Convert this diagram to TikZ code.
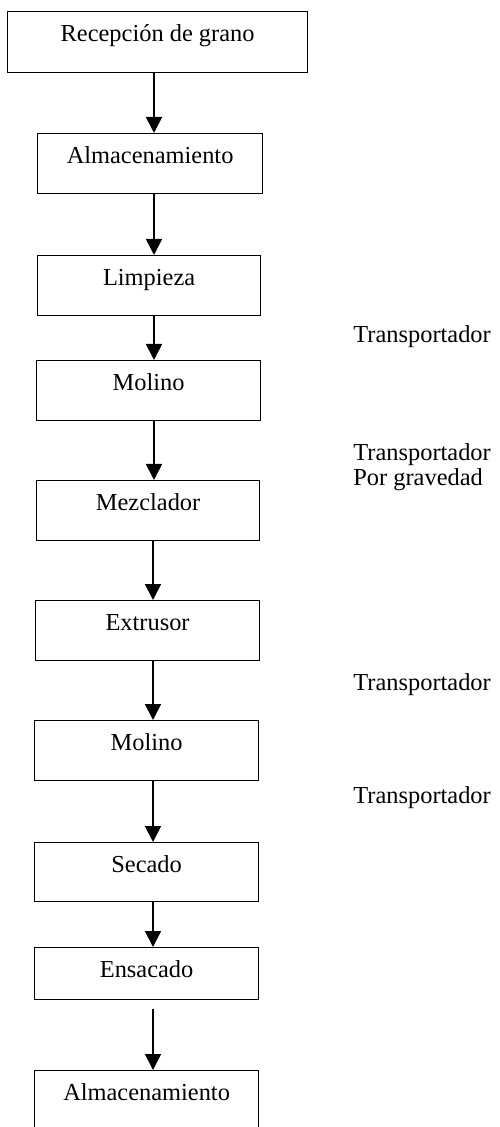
\documentclass[tikz,border=0pt]{standalone}
\usepackage{fontspec}
\setmainfont{Liberation Serif}
\usetikzlibrary{arrows.meta}
\begin{document}
\begin{tikzpicture}[x=0.5pt,y=-0.5pt,
  every node/.style={font=\fontsize{12.2}{12}\selectfont},
  procbox/.style={draw, line width=0.6pt, anchor=north west, inner xsep=0pt, inner ysep=0pt, text height=15pt},
  arr/.style={line width=0.9pt, -{Triangle[length=8pt,width=8pt]}},
  lbl/.style={anchor=base west, inner sep=0pt}]
\clip (0,0) rectangle (499,1127);
\fill[white] (0,0) rectangle (499,1127);
\coordinate (ax1) at (154,0);
\coordinate (ax2) at (153,0);
\node[procbox, minimum width=150pt, text depth=15.5pt] (b1) at (7,11) {Recepción de grano};
\node[procbox, minimum width=112.5pt, text depth=15pt] (b2) at (37,133) {Almacenamiento};
\node[procbox, minimum width=111.5pt, text depth=15pt] (b3) at (37,255) {Limpieza};
\node[procbox, minimum width=112pt, text depth=15pt] (b4) at (36,360) {Molino};
\node[procbox, minimum width=111.5pt, text depth=15pt] (b5) at (36,480) {Mezclador};
\node[procbox, minimum width=112pt, text depth=15pt] (b6) at (35,600) {Extrusor};
\node[procbox, minimum width=112pt, text depth=15pt] (b7) at (34,720) {Molino};
\node[procbox, minimum width=112pt, text depth=14.5pt] (b8) at (34,842) {Secado};
\node[procbox, minimum width=112pt, text depth=11pt] (b9) at (34,947) {Ensacado};
\node[procbox, minimum width=112pt, text depth=25pt] (b10) at (34,1070) {Almacenamiento};
\draw[arr] (b1.south -| ax1) -- (b2.north -| ax1);
\draw[arr] (b2.south -| ax1) -- (b3.north -| ax1);
\draw[arr] (b3.south -| ax1) -- (b4.north -| ax1);
\draw[arr] (b4.south -| ax1) -- (b5.north -| ax1);
\draw[arr] (b5.south -| ax2) -- (b6.north -| ax2);
\draw[arr] (b6.south -| ax2) -- (b7.north -| ax2);
\draw[arr] (b7.south -| ax2) -- (b8.north -| ax2);
\draw[arr] (b8.south -| ax2) -- (b9.north -| ax2);
\draw[arr] ([yshift=-4.5pt]b9.south -| ax2) -- (b10.north -| ax2);
\node[lbl] (t1) at (353,343) {Transportador};
\node[lbl] (t2) at (353,460) {Transportador};
\node[lbl] (t2b) at (353,485) {Por gravedad};
\node[lbl] (t3) at (353,690) {Transportador};
\node[lbl] (t4) at (353,803) {Transportador};
\end{tikzpicture}
\end{document}
